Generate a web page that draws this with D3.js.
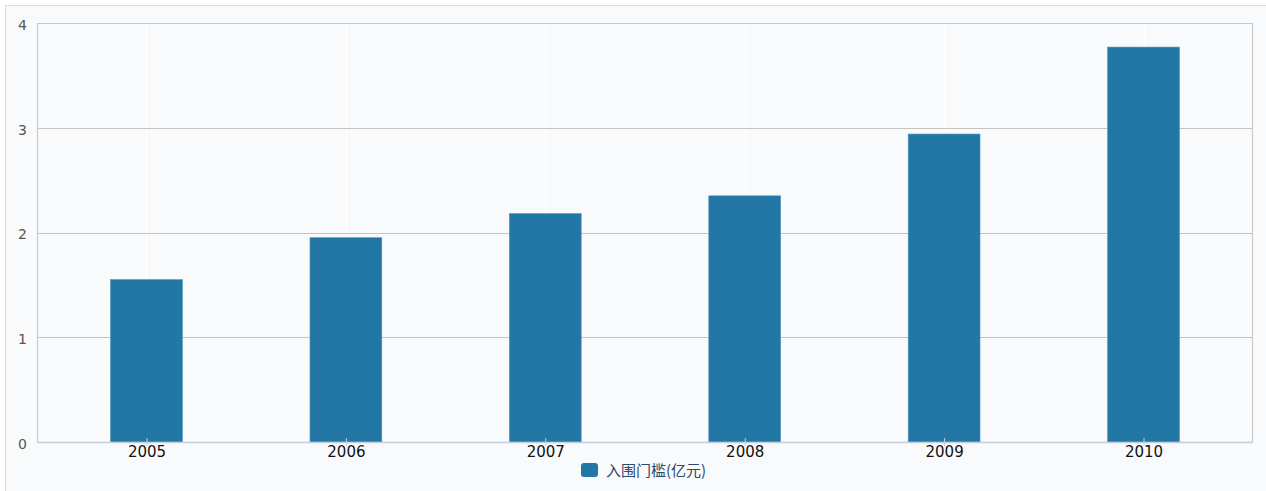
<!DOCTYPE html>
<html><head><meta charset="utf-8">
<script src="https://cdn.jsdelivr.net/npm/d3@7"></script>
<style>
html,body{margin:0;padding:0;background:#fff;}
svg{display:block;}
</style></head>
<body><svg id="c" width="1266" height="491"></svg>
<script>
const categories = ["2005","2006","2007","2008","2009","2010"];
const values = [1.55, 1.95, 2.18, 2.35, 2.94, 3.77];
const yTicks = [0,1,2,3,4];
const seriesName = "入围门槛(亿元)";

const svg = d3.select("#c");
const W = 1266, H = 491;
// outer frame
svg.append("rect").attr("x",5.5).attr("y",5.5).attr("width",W).attr("height",H)
  .attr("fill","#f9fafc").attr("stroke","#dcdcdc");

const L = 37, T = 23, R = 1253, B = 442;
svg.append("rect").attr("x",L).attr("y",T).attr("width",R-L).attr("height",B-T).attr("fill","#f9fafc");

const x = d3.scalePoint().domain(categories).range([L,R]).padding(0.549);
const step = x.step();
const y = d3.scaleLinear().domain([0,4]).range([B,T]);

// vertical faint gridlines
svg.append("g").selectAll("line").data(categories).join("line")
  .attr("x1",d=>Math.round(x(d))+0.5).attr("x2",d=>Math.round(x(d))+0.5)
  .attr("y1",T).attr("y2",B).attr("stroke","#ffffff").attr("stroke-width",1.5);

// horizontal gridlines
svg.append("g").selectAll("line").data(yTicks.filter(d=>d>0&&d<4)).join("line")
  .attr("x1",L).attr("x2",R).attr("y1",d=>Math.round(y(d))+0.5).attr("y2",d=>Math.round(y(d))+0.5)
  .attr("stroke","#c4c4c4").attr("stroke-width",1);

// bars
const bw = step*0.36;
svg.append("g").selectAll("rect").data(values).join("rect")
  .attr("x",(d,i)=>x(categories[i])-bw/2).attr("width",bw)
  .attr("y",d=>y(d)).attr("height",d=>B-y(d))
  .attr("fill","#2277a4").attr("stroke","#4a90bd").attr("stroke-width",0.6);

// plot border
svg.append("path").attr("d",`M${L+0.5},${B}V${T+0.5}H${R-0.5}V${B}`)
  .attr("fill","none").attr("stroke","#c8c8c8").attr("stroke-width",1.2);

// x axis
const xa = svg.append("g").attr("transform",`translate(0,${B})`)
  .call(d3.axisBottom(x).tickSize(4).tickSizeOuter(0));
xa.select(".domain").attr("stroke","#c0d0e0").attr("stroke-width",1.5).attr("d",`M${L},0.5H${R}`);
xa.selectAll(".tick line").attr("stroke","#c0d0e0").attr("y1",-4).attr("y2",4);
xa.selectAll("text").attr("font-family","'DejaVu Sans', sans-serif").attr("font-size",15)
  .attr("fill","#111").attr("dy","0.35em").attr("y",10);

// y axis labels
const ya = svg.append("g").attr("transform",`translate(${L},0)`)
  .call(d3.axisLeft(y).tickValues(yTicks).tickSize(0).tickFormat(d3.format("d")));
ya.select(".domain").remove();
ya.selectAll("text").attr("font-family","'DejaVu Sans', sans-serif").attr("font-size",14)
  .attr("fill","#555").attr("x",-10).attr("dy","0.45em");

// legend
const lg = svg.append("g").attr("transform","translate(581,463)");
lg.append("rect").attr("width",17).attr("height",14).attr("rx",3).attr("fill","#2277a4");
lg.append("text").attr("x",25).attr("y",7).attr("dy","0.38em")
  .attr("font-family","'Noto Sans CJK SC', sans-serif").attr("font-size",15)
  .attr("fill","#2c4a6a").text(seriesName);
</script></body></html>
